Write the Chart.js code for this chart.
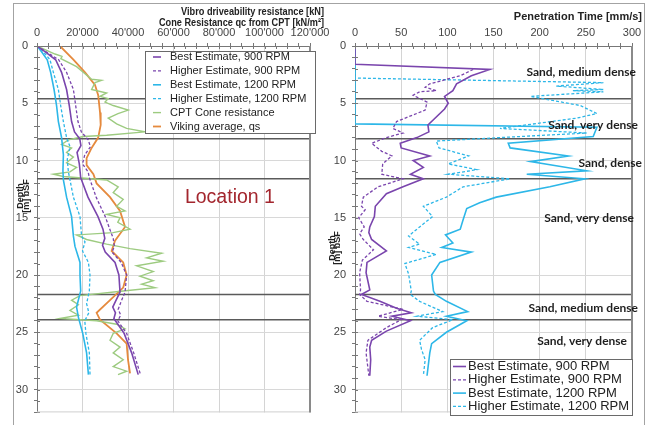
<!DOCTYPE html>
<html>
<head>
<meta charset="utf-8">
<script src="https://cdn.jsdelivr.net/npm/chart.js@4.4.1/dist/chart.umd.min.js"></script>
<style>
  html, body { margin: 0; padding: 0; background: #fff; }
  body { width: 652px; height: 425px; position: relative; overflow: hidden; }
  #frame { position: absolute; left: 13px; top: 3px; width: 632px; height: 440px; border: 1.5px solid #a3a3a3; box-sizing: border-box; }
  #left { position: absolute; left: 0; top: 0; }
  #right { position: absolute; left: 322px; top: 0; }
</style>
</head>
<body>
<div id="frame"></div>
<canvas id="left" width="340" height="425"></canvas>
<canvas id="right" width="330" height="425"></canvas>
<script>
// ---------- left panel: driveability resistance [kN] / cone resistance ----------
const depthBest900 = [0, 0.5, 1.2, 2.3, 3.8, 5.2, 6.6, 7.5, 8.1, 8.7, 9.3, 10.3, 11.5, 13.2, 14.9, 16.0, 16.8, 17.4, 18.0, 18.9, 20.0, 21.5, 22.3, 22.8, 23.3, 23.8, 25.1, 26.8, 28.7];
const best900 = [0, 3500, 8200, 10800, 13000, 14200, 15200, 16500, 18800, 19300, 17600, 18600, 19200, 22400, 26800, 29000, 29800, 28800, 30000, 34300, 36000, 36500, 34500, 33300, 34500, 33800, 38300, 41600, 44500];

const depthHigh900 = [0, 0.5, 1.2, 2.3, 3.8, 5.2, 6.6, 7.5, 8.2, 8.8, 9.5, 10.3, 11.0, 11.5, 13.2, 14.9, 16.0, 16.8, 17.5, 18.0, 18.9, 20.0, 21.5, 22.3, 23.0, 23.5, 24.0, 25.1, 26.8, 28.7];
const high900 = [0, 4000, 9500, 13000, 16000, 17000, 18000, 19500, 22500, 23500, 21000, 20000, 22500, 23000, 26000, 30000, 32000, 33500, 34000, 33000, 37000, 39400, 38700, 37000, 35700, 36800, 35500, 39400, 42500, 45500];

const depthBest1200 = [0, 0.5, 1.2, 2.3, 3.8, 5.2, 6.6, 8.0, 9.5, 10.9, 11.7, 13.2, 14.9, 16.6, 17.5, 18.9, 20.0, 21.4, 22.8, 23.7, 25.1, 26.8, 28.7];
const best1200 = [0, 2000, 4500, 6000, 7500, 8600, 9400, 10800, 11600, 11400, 11600, 13000, 15200, 16000, 16700, 18900, 18900, 19200, 17400, 18200, 20100, 21800, 22600];

const depthHigh1200 = [0, 0.5, 1.2, 2.3, 3.8, 5.2, 6.6, 8.0, 8.8, 9.9, 11.0, 11.7, 13.2, 14.9, 16.6, 17.1, 17.9, 18.9, 20.0, 21.4, 22.5, 23.3, 24.0, 25.1, 26.8, 28.7];
const high1200 = [0, 2800, 5700, 7200, 9400, 10400, 11600, 13000, 14500, 13300, 13800, 14500, 16000, 18900, 19600, 21100, 20000, 22600, 23300, 23000, 21800, 22800, 21000, 21500, 23000, 23300];

const depthCpt = [0, 0.7, 0.9, 1.1, 1.8, 2.3, 2.9, 3.0, 3.2, 3.8, 4.1, 4.4, 4.6, 4.9, 5.2, 5.6, 5.9, 6.3, 6.8, 7.2, 7.5, 7.8, 7.9, 8.2, 8.6, 8.9, 9.3, 9.7, 10.2, 10.6, 11.0, 11.2, 11.4, 11.7, 12.3, 12.8, 13.4, 14.0, 14.4, 14.7, 15.0, 15.4, 16.0, 16.3, 16.5, 16.9, 17.3, 17.7, 18.1, 18.5, 18.8, 19.2, 19.7, 20.1, 20.5, 20.8, 21.1, 21.4, 21.8, 22.2, 22.6, 23.1, 23.5, 23.8, 24.0, 24.3, 24.7, 25.1, 25.7, 26.3, 26.8, 27.4, 28.0, 28.4, 28.7];
const cpt = [0, 7900, 11000, 10500, 17400, 20300, 24000, 28400, 25500, 24000, 30600, 27700, 31300, 29900, 33500, 40100, 35600, 31300, 35000, 39400, 47500, 30600, 20300, 13800, 10800, 15200, 13000, 16000, 13000, 17400, 14500, 7200, 11600, 30600, 35700, 33500, 37900, 35000, 38700, 30600, 36500, 35500, 40900, 33500, 17400, 21800, 30600, 40900, 54800, 48200, 55500, 43800, 51100, 45300, 51100, 46000, 51900, 37900, 18900, 15200, 18200, 14500, 18200, 10100, 26200, 35000, 38700, 33500, 32100, 36500, 33500, 37900, 33500, 39400, 35600];

const depthViking = [0, 1.2, 2.3, 3.4, 4.3, 5.8, 6.9, 8.0, 8.9, 9.8, 10.4, 11.2, 12.0, 13.2, 14.4, 15.8, 17.0, 17.9, 18.9, 20.0, 21.1, 22.2, 23.3, 23.9, 25.1, 26.0, 27.4, 28.6];
const viking = [10100, 16000, 21100, 25500, 26900, 27700, 28000, 26900, 24000, 21800, 21800, 24800, 26200, 32100, 36500, 38700, 34300, 32800, 37900, 39400, 37900, 32100, 26200, 27700, 35000, 39400, 40000, 40900];

// ---------- right panel: penetration time [mm/s] ----------
const depthPt900 = [0, 1.6, 2.05, 2.6, 3.3, 3.9, 4.4, 5.0, 5.5, 6.9, 7.5, 8.0, 8.5, 8.9, 9.6, 10.0, 10.6, 11.2, 11.6, 12.3, 12.9, 14.0, 14.9, 15.8, 16.3, 16.9, 17.9, 18.9, 19.8, 21.3, 21.7, 22.3, 22.9, 23.3, 23.6, 24.0, 24.9, 25.7, 26.3, 27.4, 28.8];
const pt900 = [0, 0, 146, 126, 110, 106, 97, 101, 97, 79, 80, 67, 49, 50, 81, 63, 74, 60, 74, 52, 34, 22, 21, 16, 15, 18, 34, 13, 12, 16, 7, 27, 45, 61, 40, 60, 34, 18, 16, 17, 16];

const depthPtHigh900 = [2.05, 2.6, 3.3, 3.6, 3.9, 4.0, 4.3, 4.9, 5.6, 6.6, 7.2, 7.6, 8.0, 8.5, 9.2, 9.6, 10.3, 11.2, 11.6, 12.3, 13.2, 14.0, 14.3, 15.0, 15.8, 16.4, 16.9, 17.8, 18.7, 19.8, 21.3, 21.7, 22.3, 23.0, 23.6, 23.9, 24.6, 25.7, 26.8, 28.8];
const ptHigh900 = [128, 114, 81, 76, 88, 70, 63, 78, 76, 45, 41, 52, 34, 18, 29, 40, 30, 29, 52, 25, 9, 7, 11, 4, 10, 5, 9, 20, 8, 5, 6, 5, 13, 52, 25, 50, 34, 14, 12, 15];

const depthPt1200 = [0, 6.8, 7.1, 7.9, 8.5, 8.9, 9.6, 10.1, 10.9, 11.2, 11.6, 12.3, 13.2, 13.7, 14.2, 15.2, 16.0, 16.5, 17.2, 17.6, 18.0, 18.9, 20.0, 21.4, 21.7, 22.3, 23.2, 23.6, 24.0, 25.0, 26.0, 26.8, 28.8];
const pt1200 = [0, 0, 262, 258, 166, 168, 231, 190, 251, 186, 249, 211, 153, 135, 121, 117, 114, 98, 106, 94, 126, 92, 83, 85, 87, 99, 122, 99, 121, 99, 83, 81, 78];

const depthPtHigh1200 = [0, 2.8, 3.2, 3.5, 3.8, 3.9, 4.0, 4.4, 5.2, 5.9, 6.3, 7.2, 7.6, 8.0, 8.3, 8.9, 9.6, 10.3, 10.8, 11.2, 11.6, 12.3, 13.2, 14.0, 14.9, 15.8, 16.6, 17.3, 17.6, 18.2, 19.0, 19.9, 21.4, 21.7, 22.3, 23.2, 23.6, 23.9, 24.6, 25.7, 26.5, 27.4, 28.8];
const ptHigh1200 = [0, 0, 269, 218, 269, 236, 269, 190, 244, 262, 240, 157, 251, 157, 88, 91, 123, 101, 132, 101, 168, 117, 99, 74, 84, 70, 58, 70, 58, 88, 54, 58, 61, 60, 70, 95, 67, 106, 84, 70, 72, 76, 74];

// layer boundaries and soil description
const layerDepths = [4.6, 8.1, 11.6, 21.7, 23.9];
const soilLabels = ['Sand, medium dense', 'Sand, very dense', 'Sand, dense', 'Sand, very dense', 'Sand, medium dense', 'Sand, very dense'];
const soilDepths = [2.3, 6.9, 10.2, 15.0, 22.9, 25.8];
const soilShift = [4, 6, 10, 2, 6, -5]; // px right of the plot edge

const PURPLE = '#7A45AD', CYAN = '#2DB7E8', GREEN = '#9DCB80', ORANGE = '#E58A3E';
Chart.defaults.font.family = "'Liberation Sans', Arial, sans-serif";
Chart.defaults.animation = false;

function pts(vals, depths) {
  return vals.map((v, i) => ({ x: v, y: depths[i] }));
}

function series(label, vals, depths, color, dashed, width) {
  return {
    label: label,
    data: pts(vals, depths),
    borderColor: color,
    borderWidth: width || (dashed ? 1.3 : 1.6),
    borderDash: dashed ? [3, 2] : [],
    showLine: true,
    pointRadius: 0,
    tension: 0
  };
}

function layerLines(xMax) {
  return layerDepths.map(d => ({
    data: [{ x: 0, y: d }, { x: xMax, y: d }],
    borderColor: '#5a5a5a',
    borderWidth: 1.5,
    showLine: true,
    pointRadius: 0,
    order: 5
  }));
}

// extra drawing: inner ticks, plot border, boxed legend, texts
const decoPlugin = {
  id: 'deco',
  afterDraw(chart, args, o) {
    const ctx = chart.ctx, a = chart.chartArea;
    const sx = chart.scales.x, sy = chart.scales.y;
    ctx.save();
    ctx.strokeStyle = '#777';
    ctx.lineWidth = 1;
    ctx.beginPath();
    sx.ticks.forEach(t => {
      const px = Math.round(sx.getPixelForValue(t.value)) + 0.5;
      ctx.moveTo(px, a.top); ctx.lineTo(px, a.top + 3);
    });
    sy.ticks.forEach(t => {
      const py = Math.round(sy.getPixelForValue(t.value)) + 0.5;
      ctx.moveTo(a.left, py); ctx.lineTo(a.left + 3, py);
    });
    ctx.stroke();

    ctx.strokeStyle = '#cfcfcf';
    ctx.beginPath(); ctx.moveTo(a.left, a.bottom - 0.5); ctx.lineTo(a.right, a.bottom - 0.5); ctx.stroke();
    ctx.strokeStyle = '#8a8a8a';
    ctx.lineWidth = 2;
    ctx.beginPath(); ctx.moveTo(a.right, a.top); ctx.lineTo(a.right, a.bottom); ctx.stroke();

    // legend
    const lg = o.legend;
    ctx.fillStyle = '#fff';
    ctx.fillRect(lg.left, lg.top, lg.width, lg.height);
    ctx.strokeStyle = '#6a6a6a';
    ctx.lineWidth = 1;
    ctx.strokeRect(lg.left + 0.5, lg.top + 0.5, lg.width, lg.height);
    ctx.font = lg.font;
    ctx.textBaseline = 'middle';
    ctx.textAlign = 'left';
    chart.data.datasets.forEach((ds, i) => {
      if (!ds.label) return;
      const y = lg.top + lg.first + i * lg.step;
      ctx.strokeStyle = ds.borderColor;
      ctx.lineWidth = ds.borderWidth;
      ctx.setLineDash(ds.borderDash);
      ctx.beginPath(); ctx.moveTo(lg.left + lg.lineX[0], y); ctx.lineTo(lg.left + lg.lineX[1], y); ctx.stroke();
      ctx.setLineDash([]);
      ctx.fillStyle = '#222';
      ctx.fillText(ds.label, lg.left + lg.textX, y);
    });

    // texts given in canvas pixels
    (o.pixelTexts || []).forEach(t => {
      ctx.save();
      ctx.font = t.font;
      ctx.fillStyle = t.color || '#222';
      ctx.textAlign = t.align || 'left';
      ctx.textBaseline = 'middle';
      ctx.translate(t.x, t.y);
      if (t.rot) ctx.rotate(t.rot);
      if (t.maxWidth) ctx.fillText(t.text, 0, 0, t.maxWidth); else ctx.fillText(t.text, 0, 0);
      ctx.restore();
    });
    // texts placed by depth / value
    (o.dataTexts || []).forEach(t => {
      ctx.font = t.font;
      ctx.fillStyle = t.color || '#222';
      ctx.textAlign = t.align || 'left';
      ctx.textBaseline = 'middle';
      const px = t.x === undefined ? a.right + t.shift : sx.getPixelForValue(t.x);
      ctx.fillText(t.text, px, sy.getPixelForValue(t.y));
    });
    ctx.restore();
  }
};

function xScale(max, step, major, fmt) {
  return {
    type: 'linear',
    position: 'top',
    min: 0,
    max: max,
    afterFit: s => { s.height = 46; s.paddingLeft = 0; s.paddingRight = 0; },
    ticks: {
      stepSize: step, autoSkip: false, maxRotation: 0, color: '#444', font: { size: 11 }, padding: 3,
      callback: v => (v % major === 0 ? fmt(v) : '')
    },
    grid: {
      color: c => (c.tick && c.tick.value % major === 0 && c.tick.value !== 0 ? '#d4d4d4' : 'transparent'),
      tickColor: '#777',
      tickLength: 3
    },
    border: { color: '#777', width: 1 }
  };
}

function yScale(width) {
  return {
    type: 'linear',
    reverse: true,
    min: 0,
    max: 32,
    afterFit: s => { s.width = width; },
    ticks: {
      stepSize: 1, autoSkip: false, color: '#444', font: { size: 11 }, padding: 6,
      callback: v => (v % 5 === 0 ? v : '')
    },
    grid: {
      color: c => (c.tick && c.tick.value % 5 === 0 && c.tick.value !== 0 ? '#d8d8d8' : 'transparent'),
      tickColor: '#777',
      tickLength: 3
    },
    border: { color: '#777', width: 1 }
  };
}

const kN = v => (v === 0 ? '0' : (v / 1000) + "'000");

new Chart(document.getElementById('left'), {
  type: 'scatter',
  data: {
    datasets: [
      series('Best Estimate, 900 RPM', best900, depthBest900, PURPLE, false),
      series('Higher Estimate, 900 RPM', high900, depthHigh900, PURPLE, true),
      series('Best Estimate, 1200 RPM', best1200, depthBest1200, CYAN, false),
      series('Higher Estimate, 1200 RPM', high1200, depthHigh1200, CYAN, true),
      series('CPT Cone resistance', cpt, depthCpt, GREEN, false, 1.4),
      series('Viking average, qs', viking, depthViking, ORANGE, false, 1.8)
    ].concat(layerLines(120000))
  },
  options: {
    responsive: false,
    layout: { padding: { left: 0, top: 0, right: 30, bottom: 5 } },
    plugins: {
      legend: { display: false },
      tooltip: { enabled: false },
      deco: {
        legend: { left: 145, top: 51, width: 170, height: 82, first: 6, step: 13.9, lineX: [8, 16], textX: 25, font: "11px 'Liberation Sans', Arial" },
        pixelTexts: [
          { text: 'Vibro driveability resistance [kN]', x: 324, y: 12, align: 'right', font: "bold 10.5px 'Liberation Sans', Arial", maxWidth: 143 },
          { text: 'Cone Resistance qc from CPT [kN/m²]', x: 324, y: 23.5, align: 'right', font: "bold 10.5px 'Liberation Sans', Arial", maxWidth: 165 },
          { text: 'Depth', x: 21, y: 196, align: 'center', rot: -Math.PI / 2, font: "bold 9px 'Liberation Sans', Arial" },
          { text: '[m] bSF', x: 27, y: 196, align: 'center', rot: -Math.PI / 2, font: "bold 9px 'Liberation Sans', Arial" }
        ],
        dataTexts: [
          { text: 'Location 1', x: 84800, y: 13.2, align: 'center', color: '#A3262E', font: "19.5px 'Liberation Sans', Arial" }
        ]
      }
    },
    scales: { x: xScale(120000, 5000, 20000, kN), y: yScale(37) }
  },
  plugins: [decoPlugin]
});

new Chart(document.getElementById('right'), {
  type: 'scatter',
  data: {
    datasets: [
      series('Best Estimate, 900 RPM', pt900, depthPt900, PURPLE, false),
      series('Higher Estimate, 900 RPM', ptHigh900, depthPtHigh900, PURPLE, true),
      series('Best Estimate, 1200 RPM', pt1200, depthPt1200, CYAN, false),
      series('Higher Estimate, 1200 RPM', ptHigh1200, depthPtHigh1200, CYAN, true)
    ].concat(layerLines(300))
  },
  options: {
    responsive: false,
    layout: { padding: { left: 0, top: 0, right: 20, bottom: 5 } },
    plugins: {
      legend: { display: false },
      tooltip: { enabled: false },
      deco: {
        legend: { left: 128, top: 359, width: 182, height: 56, first: 7.5, step: 13.3, lineX: [3, 16], textX: 18, font: "13px 'Liberation Sans', Arial" },
        pixelTexts: [
          { text: 'Penetration Time [mm/s]', x: 320, y: 17, align: 'right', font: "bold 11px 'Liberation Sans', Arial" },
          { text: 'Depth', x: 10.5, y: 248, align: 'center', rot: -Math.PI / 2, font: "bold 9px 'Liberation Sans', Arial" },
          { text: '[m] bSF', x: 16, y: 248, align: 'center', rot: -Math.PI / 2, font: "bold 9px 'Liberation Sans', Arial" }
        ],
        dataTexts: soilLabels.map((s, i) => ({ text: s, y: soilDepths[i], shift: soilShift[i], align: 'right', color: '#1e1e1e', font: "bold 12px Lato, 'Open Sans', sans-serif" }))
      }
    },
    scales: { x: xScale(300, 12.5, 50, v => String(v)), y: yScale(33) }
  },
  plugins: [decoPlugin]
});
</script>
</body>
</html>
